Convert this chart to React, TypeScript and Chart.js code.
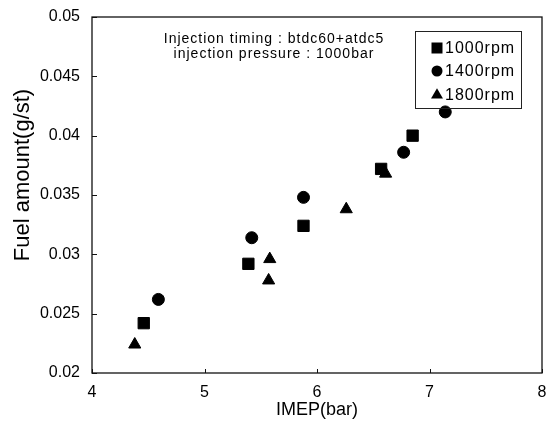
import React, { useEffect, useRef } from 'react';
import { Chart, registerables } from 'chart.js';

Chart.register(...registerables);

const seriesNames = ['1000rpm', '1400rpm', '1800rpm'];
const seriesStyles = ['rect', 'circle', 'triangle'];
const seriesRadius = [8, 6, 7];

const imep1000 = [4.46, 5.39, 5.88, 6.57, 6.85];
const fuel1000 = [0.0242, 0.0292, 0.0324, 0.0372, 0.04];
const imep1400 = [4.59, 5.42, 5.88, 6.77, 7.14];
const fuel1400 = [0.0262, 0.0314, 0.0348, 0.0386, 0.042];
const imep1800 = [4.38, 5.57, 5.58, 6.26, 6.61];
const fuel1800 = [0.0224, 0.0278, 0.0296, 0.0338, 0.0368];

const xTicks = [4, 5, 6, 7, 8];
const yTicks = [0.02, 0.025, 0.03, 0.035, 0.04, 0.045, 0.05];
const xTitle = 'IMEP(bar)';
const yTitle = 'Fuel amount(g/st)';
const noteLines = ['Injection timing : btdc60+atdc5', 'injection pressure : 1000bar'];

const FONT = '"Liberation Sans", Arial, sans-serif';

function drawMarker(ctx: CanvasRenderingContext2D, style: string, x: number, y: number, s: number) {
  ctx.beginPath();
  if (style === 'rect') {
    ctx.rect(x - s / 2, y - s / 2, s, s);
  } else if (style === 'circle') {
    ctx.arc(x, y, s / 2, 0, Math.PI * 2);
  } else {
    const r = s / 1.6;
    ctx.moveTo(x, y - r);
    ctx.lineTo(x + r * 0.866, y + r * 0.5);
    ctx.lineTo(x - r * 0.866, y + r * 0.5);
    ctx.closePath();
  }
  ctx.fill();
}

const decorPlugin = {
  id: 'decor',
  beforeDatasetsDraw(chart: any) {
    const { ctx, chartArea: a, scales } = chart;
    ctx.save();
    ctx.strokeStyle = '#111';
    ctx.lineWidth = 1.3;
    ctx.strokeRect(a.left, a.top, a.right - a.left, a.bottom - a.top);
    ctx.lineWidth = 1;
    ctx.beginPath();
    scales.y.ticks.forEach((t: any) => {
      const py = Math.round(scales.y.getPixelForValue(t.value)) + 0.5;
      ctx.moveTo(a.left, py);
      ctx.lineTo(a.left + 5, py);
    });
    scales.x.ticks.forEach((t: any) => {
      const px = Math.round(scales.x.getPixelForValue(t.value)) + 0.5;
      ctx.moveTo(px, a.bottom);
      ctx.lineTo(px, a.bottom - 4);
    });
    ctx.stroke();
    ctx.restore();
  },
  afterDraw(chart: any) {
    const { ctx, chartArea: a } = chart;
    ctx.save();
    // y axis title
    ctx.fillStyle = '#000';
    ctx.font = `22px ${FONT}`;
    ctx.textAlign = 'center';
    ctx.textBaseline = 'middle';
    ctx.translate(23, (a.top + a.bottom) / 2 - 20);
    ctx.rotate(-Math.PI / 2);
    ctx.fillText(yTitle, 0, 0);
    ctx.restore();

    ctx.save();
    // annotation
    ctx.fillStyle = '#000';
    ctx.font = `14px ${FONT}`;
    (ctx as any).letterSpacing = '1px';
    ctx.textAlign = 'center';
    ctx.textBaseline = 'alphabetic';
    const cx = a.left + 182;
    noteLines.forEach((line, i) => {
      ctx.fillText(line, cx, a.top + 26 + i * 15);
    });
    // legend box
    const bx = a.left + 323;
    const by = a.top + 14;
    const bw = 106;
    const bh = 77;
    ctx.strokeStyle = '#222';
    ctx.lineWidth = 1;
    ctx.strokeRect(bx + 0.5, by + 0.5, bw, bh);
    ctx.font = `16px ${FONT}`;
    (ctx as any).letterSpacing = '1px';
    ctx.textAlign = 'left';
    ctx.textBaseline = 'middle';
    const rows = [17, 40, 64];
    chart.data.datasets.forEach((ds: any, i: number) => {
      const y = by + rows[i];
      ctx.fillStyle = '#000';
      drawMarker(ctx, seriesStyles[i], bx + 22, y, 11);
      ctx.fillText(ds.label, bx + 30, y + 1);
    });
    ctx.restore();
  },
};

export default function App() {
  const ref = useRef<HTMLCanvasElement | null>(null);
  useEffect(() => {
    if (!ref.current) return;
    const xs = [imep1000, imep1400, imep1800];
    const ys = [fuel1000, fuel1400, fuel1800];
    const datasets = seriesNames.map((name, i) => ({
      label: name,
      data: xs[i].map((x, j) => ({ x, y: ys[i][j] })),
      pointStyle: seriesStyles[i],
      pointRadius: seriesRadius[i],
      pointBackgroundColor: '#000',
      pointBorderColor: '#000',
      pointBorderWidth: 1,
      showLine: false,
    }));
    const chart = new Chart(ref.current, {
      type: 'scatter',
      data: { datasets },
      options: {
        animation: false,
        responsive: false,
        layout: { padding: { left: 0, top: 17, right: 9, bottom: 0 } },
        plugins: { legend: { display: false }, tooltip: { enabled: false } },
        scales: {
          x: {
            type: 'linear',
            min: xTicks[0],
            max: xTicks[xTicks.length - 1],
            afterBuildTicks: (s: any) => { s.ticks = xTicks.map((v) => ({ value: v })); },
            afterFit: (s: any) => {
              s.height = 59;
              s.paddingLeft = 0;
              s.paddingRight = 0;
            },
            grid: { display: false, drawTicks: false },
            border: { display: false },
            ticks: {
              padding: 10,
              color: '#000',
              font: { family: FONT, size: 16 },
              callback: (v: any) => String(v),
            },
            title: {
              display: true,
              text: xTitle,
              color: '#000',
              font: { family: FONT, size: 18 },
              padding: { top: 0, bottom: 11 },
            },
          },
          y: {
            type: 'linear',
            min: yTicks[0],
            max: yTicks[yTicks.length - 1],
            afterBuildTicks: (s: any) => { s.ticks = yTicks.map((v) => ({ value: v })); },
            afterFit: (s: any) => {
              s.width = 92;
              s.paddingTop = 0;
              s.paddingBottom = 0;
            },
            grid: { display: false, drawTicks: false },
            border: { display: false },
            ticks: {
              padding: 12,
              color: '#000',
              font: { family: FONT, size: 16 },
              callback: (v: any) => String(Number(Number(v).toFixed(3))),
            },
            title: { display: false },
          },
        },
      },
      plugins: [decorPlugin],
    } as any);
    return () => chart.destroy();
  }, []);
  return (
    <div style={{ position: 'absolute', left: 0, top: 0, width: 551, height: 432, background: '#fff' }}>
      <canvas ref={ref} width={551} height={432} style={{ display: 'block' }} />
    </div>
  );
}
